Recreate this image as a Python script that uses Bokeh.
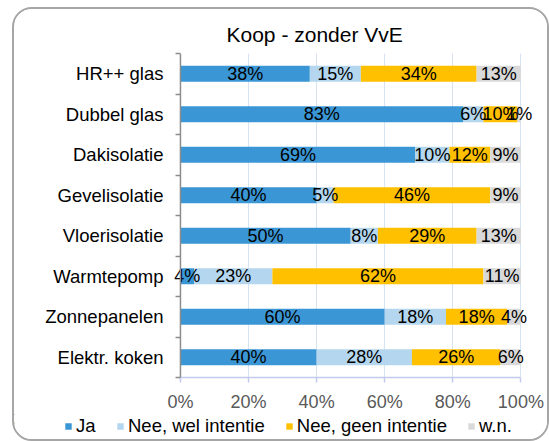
from bokeh.plotting import figure
from bokeh.layouts import column
from bokeh.models import (Range1d, FixedTicker, PrintfTickFormatter, Span,
                          Legend, LegendItem, ColumnDataSource)
from bokeh.core.properties import value
from bokeh.embed import file_html
from bokeh.resources import INLINE

# ---- data ----
categories = ["HR++ glas", "Dubbel glas", "Dakisolatie", "Gevelisolatie",
              "Vloerisolatie", "Warmtepomp", "Zonnepanelen", "Elektr. koken"]
ja = [38, 83, 69, 40, 50, 4, 60, 40]
wel_intentie = [15, 6, 10, 5, 8, 23, 18, 28]
geen_intentie = [34, 10, 12, 46, 29, 62, 18, 26]
wn = [13, 1, 9, 9, 13, 11, 4, 6]
series_names = ["Ja", "Nee, wel intentie", "Nee, geen intentie", "w.n."]
series_keys = ["ja", "wel", "geen", "wn"]
colors = ["#3A96D4", "#B4D7EF", "#FFC000", "#D9D9D9"]
x_ticks = [0, 20, 40, 60, 80, 100]
title_text = "Koop - zonder VvE"

FONT = "Liberation Sans"
n = len(categories)
ypos = [i + 0.5 for i in range(n)]

src = ColumnDataSource(dict(y=ypos, ja=ja, wel=wel_intentie, geen=geen_intentie, wn=wn))

fig = figure(width=533, height=405, output_backend="svg", toolbar_location=None,
             x_range=Range1d(-4.1, 104), y_range=Range1d(n, 0),
             min_border_left=152, min_border_right=13, min_border_top=44, min_border_bottom=33)
fig.background_fill_color = "white"
fig.border_fill_color = "white"
fig.outline_line_color = None
fig.frame_align = False

fig.hbar_stack(series_keys, y="y", height=0.4, color=colors, source=src, line_width=0)

# labels in segments
all_vals = [ja, wel_intentie, geen_intentie, wn]
lx, ly, lt = [], [], []
cum = [0] * n
for vals in all_vals:
    for i, v in enumerate(vals):
        lx.append(cum[i] + v / 2)
        ly.append(ypos[i])
        lt.append(f"{v}%")
        cum[i] += v
fig.text(x="x", y="y", text="t", source=ColumnDataSource(dict(x=lx, y=ly, t=lt)),
         text_align="center", text_baseline="middle", text_font=value(FONT),
         text_font_size="18px", text_color="#000000")

# category axis line at 0%
fig.add_layout(Span(location=0, dimension="height", line_color="#8C8C8C", line_width=1.5))

# x axis
fig.xaxis.ticker = FixedTicker(ticks=x_ticks)
fig.xaxis.bounds = (0, 100)
fig.xaxis.formatter = PrintfTickFormatter(format="%d%%")
fig.xaxis.axis_line_color = "#C4CAEE"
fig.xaxis.axis_line_width = 1.5
fig.xaxis.major_tick_line_color = "#C4CAEE"
fig.xaxis.major_tick_line_width = 1.5
fig.xaxis.major_tick_out = 5
fig.xaxis.major_tick_in = 0
fig.xaxis.minor_tick_line_color = None
fig.xaxis.major_label_text_font = FONT
fig.xaxis.major_label_text_font_size = "18px"
fig.xaxis.major_label_text_color = "#595959"
fig.xaxis.major_label_standoff = 9

# y axis: labels at category centres, separator ticks at category edges (pointing left of 0%)
fig.yaxis.ticker = FixedTicker(ticks=ypos, minor_ticks=list(range(n + 1)))
fig.yaxis.major_label_overrides = {yv: c for yv, c in zip(ypos, categories)}
fig.yaxis.axis_line_color = None
fig.yaxis.major_tick_line_color = None
fig.yaxis.major_tick_out = 0
fig.yaxis.major_tick_in = 0
fig.yaxis.minor_tick_line_color = "#8C8C8C"
fig.yaxis.minor_tick_line_width = 1.5
fig.yaxis.minor_tick_out = -9
fig.yaxis.minor_tick_in = 14
fig.yaxis.major_label_text_font = FONT
fig.yaxis.major_label_text_font_size = "18.5px"
fig.yaxis.major_label_text_color = "#000000"
fig.yaxis.major_label_standoff = 3

# grid
fig.ygrid.grid_line_color = None
fig.xgrid.ticker = FixedTicker(ticks=x_ticks[1:])
fig.xgrid.grid_line_color = "#D5E3F3"
fig.xgrid.grid_line_width = 1

# title
fig.title.text = title_text
fig.title.text_font = FONT
fig.title.text_font_size = "21px"
fig.title.text_font_style = "normal"
fig.title.text_color = "#000000"
fig.title.align = "left"
fig.title.offset = 60
fig.title.standoff = 16

# legend strip (its bars lie outside its visible range; only the legend shows)
lf = figure(width=533, height=25, output_backend="svg", toolbar_location=None,
            x_axis_type=None, y_axis_type=None, min_border=0,
            min_border_left=0, min_border_right=0, min_border_top=0, min_border_bottom=0,
            x_range=Range1d(1000, 1001), y_range=Range1d(0, 1))
lf.outline_line_color = None
lf.background_fill_color = "white"
lf.border_fill_color = "white"
lf.frame_align = False
leg_renderers = lf.hbar_stack(series_keys, y="y", height=0.4, color=colors, source=src, line_width=0)
legend = Legend(items=[LegendItem(label=nm, renderers=[r]) for nm, r in zip(series_names, leg_renderers)],
                orientation="horizontal", location=(50, 2),
                glyph_width=8, glyph_height=8, label_standoff=4, spacing=20,
                padding=0, margin=0, border_line_color=None, background_fill_alpha=0,
                label_text_font=FONT, label_text_font_size="18.5px", label_text_color="#000000")
lf.add_layout(legend)

p = column(fig, lf, spacing=0)
p.margin = (7, 0, 0, 12)
p.styles = {"border": "2px solid #A6A6A6", "border-radius": "20px",
            "overflow": "hidden", "box-sizing": "content-box", "background": "white"}

open("out.html", "w").write(file_html(p, INLINE))
